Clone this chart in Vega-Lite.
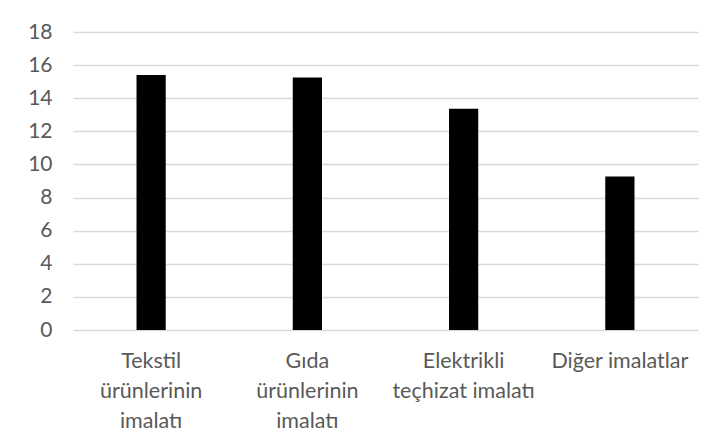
{
  "$schema": "https://vega.github.io/schema/vega-lite/v6.json",
  "autosize": {"type": "none"},
  "width": 625,
  "height": 298,
  "padding": {"left": 73, "top": 32, "right": 19, "bottom": 118},
  "background": "white",
  "data": {
    "values": [
      {"sektor": "Tekstil ürünlerinin imalatı", "deger": 15.4},
      {"sektor": "Gıda ürünlerinin imalatı", "deger": 15.25},
      {"sektor": "Elektrikli teçhizat imalatı", "deger": 13.37},
      {"sektor": "Diğer imalatlar", "deger": 9.27}
    ]
  },
  "mark": {"type": "bar", "color": "black"},
  "encoding": {
    "x": {
      "field": "sektor",
      "type": "nominal",
      "sort": null,
      "scale": {"paddingInner": 0.813, "paddingOuter": 0.4065},
      "axis": {
        "title": null,
        "labelAngle": 0,
        "ticks": false,
        "domain": false,
        "labelFont": "Lato",
        "labelFontSize": 21.5,
        "labelColor": "#595959",
        "labelPadding": 20,
        "labelLineHeight": 30,
        "labelBaseline": "top",
        "labelOverlap": false,
        "labelLimit": 300,
        "labelExpr": "datum.label == 'Tekstil ürünlerinin imalatı' ? ['Tekstil', 'ürünlerinin', 'imalatı'] : datum.label == 'Gıda ürünlerinin imalatı' ? ['Gıda', 'ürünlerinin', 'imalatı'] : datum.label == 'Elektrikli teçhizat imalatı' ? ['Elektrikli', 'teçhizat imalatı'] : datum.label"
      }
    },
    "y": {
      "field": "deger",
      "type": "quantitative",
      "scale": {"domain": [0, 18], "nice": false},
      "axis": {
        "title": null,
        "values": [0, 2, 4, 6, 8, 10, 12, 14, 16, 18],
        "ticks": false,
        "domain": false,
        "gridColor": "#d9d9d9",
        "gridWidth": 1.3,
        "labelFont": "Lato",
        "labelFontSize": 21,
        "labelColor": "#595959",
        "labelPadding": 21
      }
    }
  },
  "config": {"view": {"stroke": null}}
}
